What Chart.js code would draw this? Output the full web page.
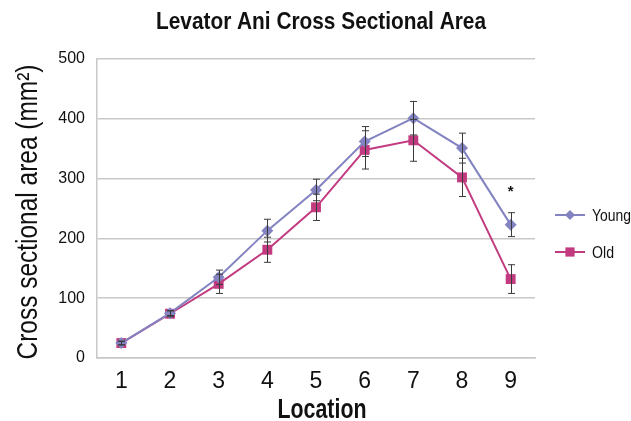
<!DOCTYPE html>
<html>
<head>
<meta charset="utf-8">
<script src="https://cdn.jsdelivr.net/npm/chart.js@4"></script>
<style>
  html,body{margin:0;padding:0;background:#fff}
  #wrap{width:631px;height:421px;position:relative}
</style>
</head>
<body>
<div id="wrap"><canvas id="c"></canvas></div>
<script>
/* ── Data ── */
const locations = ['1','2','3','4','5','6','7','8','9'];
const youngMean = [25, 75, 135, 213, 281, 362, 401, 351, 223];
const youngErr  = [3, 4, 12, 19, 18, 25, 28, 25, 20];
const oldMean   = [25, 74, 124, 181, 252, 348, 364, 302, 132];
const oldErr    = [3, 5, 16, 21, 22, 32, 35, 32, 24];
const yTicks    = [0, 100, 200, 300, 400, 500];
const starAt    = { index: 8, value: 285 };

const TITLE  = 'Levator Ani Cross Sectional Area';
const XTITLE = 'Location';
const YTITLE = 'Cross sectional area (mm²)';

const YOUNG = '#8383c2';
const OLD   = '#c23b80';
const FONT  = "'Liberation Sans', Arial, sans-serif";

/* condensed text: draw then squeeze to the target width */
function squeezed(ctx, text, font, w, x, y, rot) {
  ctx.save();
  ctx.font = font;
  const s = w / ctx.measureText(text).width;
  ctx.translate(x, y);
  if (rot) ctx.rotate(rot);
  ctx.scale(s, 1);
  ctx.textAlign = 'center';
  ctx.textBaseline = 'alphabetic';
  ctx.fillText(text, 0, 0);
  ctx.restore();
}

/* ── Error bars, asterisk, titles, legend ── */
const extras = {
  id: 'extras',
  afterDatasetsDraw(chart) {
    const { ctx, scales: { x, y } } = chart;
    ctx.save();
    ctx.strokeStyle = '#3a3a3a';
    ctx.lineWidth = 1;
    [[youngMean, youngErr], [oldMean, oldErr]].forEach(([m, e]) => {
      m.forEach((v, i) => {
        const px = Math.round(x.getPixelForValue(i)) + 0.5;
        const top = y.getPixelForValue(v + e[i]);
        const bot = y.getPixelForValue(v - e[i]);
        ctx.beginPath();
        ctx.moveTo(px, top); ctx.lineTo(px, bot);
        ctx.moveTo(px - 3.5, top); ctx.lineTo(px + 3.5, top);
        ctx.moveTo(px - 3.5, bot); ctx.lineTo(px + 3.5, bot);
        ctx.stroke();
      });
    });

    ctx.fillStyle = '#111';
    ctx.font = 'bold 15px ' + FONT;
    ctx.textAlign = 'center';
    ctx.textBaseline = 'alphabetic';
    ctx.fillText('*', x.getPixelForValue(starAt.index), y.getPixelForValue(starAt.value) + 8.5);

    // titles
    squeezed(ctx, TITLE, 'bold 24px ' + FONT, 330, 321, 29);
    squeezed(ctx, XTITLE, 'bold 28px ' + FONT, 89, 322, 418);
    squeezed(ctx, YTITLE, '29px ' + FONT, 295, 37, 212, -Math.PI / 2);

    // legend
    const items = [['Young', YOUNG, 'rectRot', 5, 215, 39], ['Old', OLD, 'rect', 6.5, 252, 22]];
    const lx = 555;
    items.forEach(([label, col, style, r, ly, w]) => {
      ctx.strokeStyle = col; ctx.lineWidth = 2;
      ctx.beginPath(); ctx.moveTo(lx, ly); ctx.lineTo(lx + 30, ly); ctx.stroke();
      ctx.fillStyle = col;
      Chart.helpers.drawPoint(ctx, { pointStyle: style, radius: r, borderWidth: 0 }, lx + 15, ly);
      ctx.fillStyle = '#111';
      ctx.save();
      ctx.font = '16px ' + FONT;
      const s = w / ctx.measureText(label).width;
      ctx.translate(592, ly + 6);
      ctx.scale(s, 1);
      ctx.textAlign = 'left';
      ctx.fillText(label, 0, 0);
      ctx.restore();
    });
    ctx.restore();
  }
};

new Chart(document.getElementById('c'), {
  type: 'line',
  data: {
    labels: locations,
    datasets: [
      { label: 'Young', data: youngMean, borderColor: YOUNG, backgroundColor: YOUNG,
        borderWidth: 2, pointStyle: 'rectRot', pointRadius: 6, pointBorderWidth: 0, tension: 0 },
      { label: 'Old', data: oldMean, borderColor: OLD, backgroundColor: OLD,
        borderWidth: 2, pointStyle: 'rect', pointRadius: 7, pointBorderWidth: 0, tension: 0 }
    ]
  },
  options: {
    responsive: true, maintainAspectRatio: false, animation: false,
    layout: { padding: { left: 0, right: 96, top: 59, bottom: 0 } },
    plugins: {
      legend: { display: false },
      tooltip: { enabled: false },
      title: { display: false }
    },
    scales: {
      x: {
        offset: true,
        afterFit(s) { s.height = 63; },
        grid: { display: false, drawTicks: false },
        border: { color: '#c8c8c8', width: 1.5 },
        ticks: { color: '#111', font: { family: FONT, size: 23 }, padding: 10 }
      },
      y: {
        min: 0, max: 500,
        afterBuildTicks(s) { s.ticks = yTicks.map(v => ({ value: v })); },
        afterFit(s) { s.width = 97; },
        grid: { color: '#c8c8c8', lineWidth: 1.5, drawTicks: false },
        border: { color: '#c8c8c8', width: 1.5 },
        ticks: { color: '#111', font: { family: FONT, size: 16 }, padding: 12 }
      }
    }
  },
  plugins: [extras]
});
</script>
</body>
</html>
